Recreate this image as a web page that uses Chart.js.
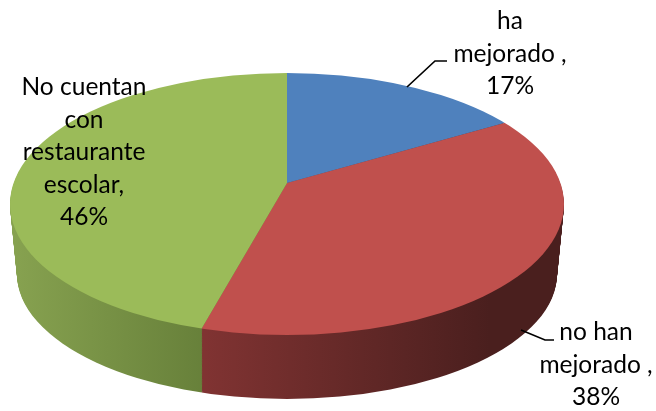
<!DOCTYPE html>
<html>
<head>
<meta charset="utf-8">
<script src="https://cdn.jsdelivr.net/npm/chart.js@4"></script>
<style>
  html, body { margin: 0; padding: 0; background: #fff; }
  canvas { display: block; }
</style>
</head>
<body>
<canvas id="pie3d" width="656" height="411"></canvas>
<script>
// datos
const categories = ['ha mejorado', 'no han mejorado', 'No cuentan con restaurante escolar'];
const values = [17, 38, 46];
const labelLines = [
  ['ha', 'mejorado ,'],
  ['no han', 'mejorado ,'],
  ['No cuentan', 'con', 'restaurante', 'escolar,']
];
const topColors = ['#4f81bd', '#c0504d', '#9bbb59'];
const wallColors = [
  ['#3a5f8c', '#2c4a6d'],
  ['#803332', '#4a1f1e'],
  ['#87a250', '#67803a']
];

// geometria de la tarta en perspectiva (pixeles de pagina)
const apex = { x: 287, y: 183 };
const squash = 0.49;
const reach = 345;
const rim = { x: 287, y: 204, rx: 277, ry: 131 };
const wall = { dy: 70, drx: 7, dry: 6, apexDy: 64, steps: 70 };
const wallGrad = [[[287, 505], [287, 505]], [[205, 490]], [[12, 205]]];

const labelPos = [
  { x: 510, y: 29 },
  { x: 596, y: 340 },
  { x: 84, y: 95 }
];
const leaders = [
  [[407, 87], [435, 61], [447, 61]],
  [[521, 330], [545, 340], [554, 340]]
];

function fillLayer(chart, ctx, arcs, dy, colorFor) {
  const scale = reach / arcs[0].outerRadius;
  ctx.save();
  ctx.translate(apex.x, apex.y + dy);
  ctx.scale(scale, scale * squash);
  ctx.translate(-arcs[0].x, -arcs[0].y);
  arcs.forEach(function (arc, i) {
    const saved = arc.options;
    arc.options = Object.assign({}, saved, { backgroundColor: colorFor(i, arc, scale), borderWidth: 0 });
    arc.draw(ctx);
    arc.options = saved;
  });
  ctx.restore();
}

const pie3d = {
  id: 'pie3d',
  beforeDatasetsDraw(chart) {
    const ctx = chart.ctx;
    const arcs = chart.getDatasetMeta(0).data;

    // pared lateral: capas de abajo hacia arriba
    for (let s = wall.steps; s > 0; s--) {
      const t = s / wall.steps;
      ctx.save();
      ctx.beginPath();
      ctx.ellipse(rim.x, rim.y + wall.dy * t, rim.rx - wall.drx * t, rim.ry - wall.dry * t, 0, 0, Math.PI * 2);
      ctx.clip();
      fillLayer(chart, ctx, arcs, wall.apexDy * t, function (i, arc, scale) {
        const span = wallGrad[i][0];
        const x0 = arc.x + (span[0] - apex.x) / scale;
        const x1 = arc.x + (span[1] - apex.x) / scale;
        const g = ctx.createLinearGradient(x0, 0, x1, 0);
        g.addColorStop(0, wallColors[i][0]);
        g.addColorStop(1, wallColors[i][1]);
        return g;
      });
      ctx.restore();
    }

    // cara superior
    ctx.save();
    ctx.beginPath();
    ctx.ellipse(rim.x, rim.y, rim.rx, rim.ry, 0, 0, Math.PI * 2);
    ctx.clip();
    fillLayer(chart, ctx, arcs, 0, function (i) { return topColors[i]; });
    ctx.restore();
    return false;
  },
  afterDraw(chart) {
    const ctx = chart.ctx;
    ctx.save();
    ctx.strokeStyle = '#000';
    ctx.lineWidth = 1.7;
    leaders.forEach(function (pts) {
      ctx.beginPath();
      pts.forEach(function (p, i) { i ? ctx.lineTo(p[0], p[1]) : ctx.moveTo(p[0], p[1]); });
      ctx.stroke();
    });
    ctx.fillStyle = '#000';
    ctx.font = '24.5px Lato';
    ctx.textAlign = 'center';
    ctx.textBaseline = 'alphabetic';
    labelLines.forEach(function (lines, i) {
      const all = lines.concat(values[i] + '%');
      all.forEach(function (txt, n) {
        ctx.fillText(txt, labelPos[i].x, labelPos[i].y + n * 32.5);
      });
    });
    ctx.restore();
  }
};

new Chart(document.getElementById('pie3d'), {
  type: 'pie',
  data: {
    labels: categories,
    datasets: [{
      data: values,
      backgroundColor: topColors,
      borderWidth: 0
    }]
  },
  options: {
    responsive: false,
    animation: false,
    layout: { padding: 0 },
    plugins: {
      legend: { display: false },
      tooltip: { enabled: false }
    }
  },
  plugins: [pie3d]
});
</script>
</body>
</html>
